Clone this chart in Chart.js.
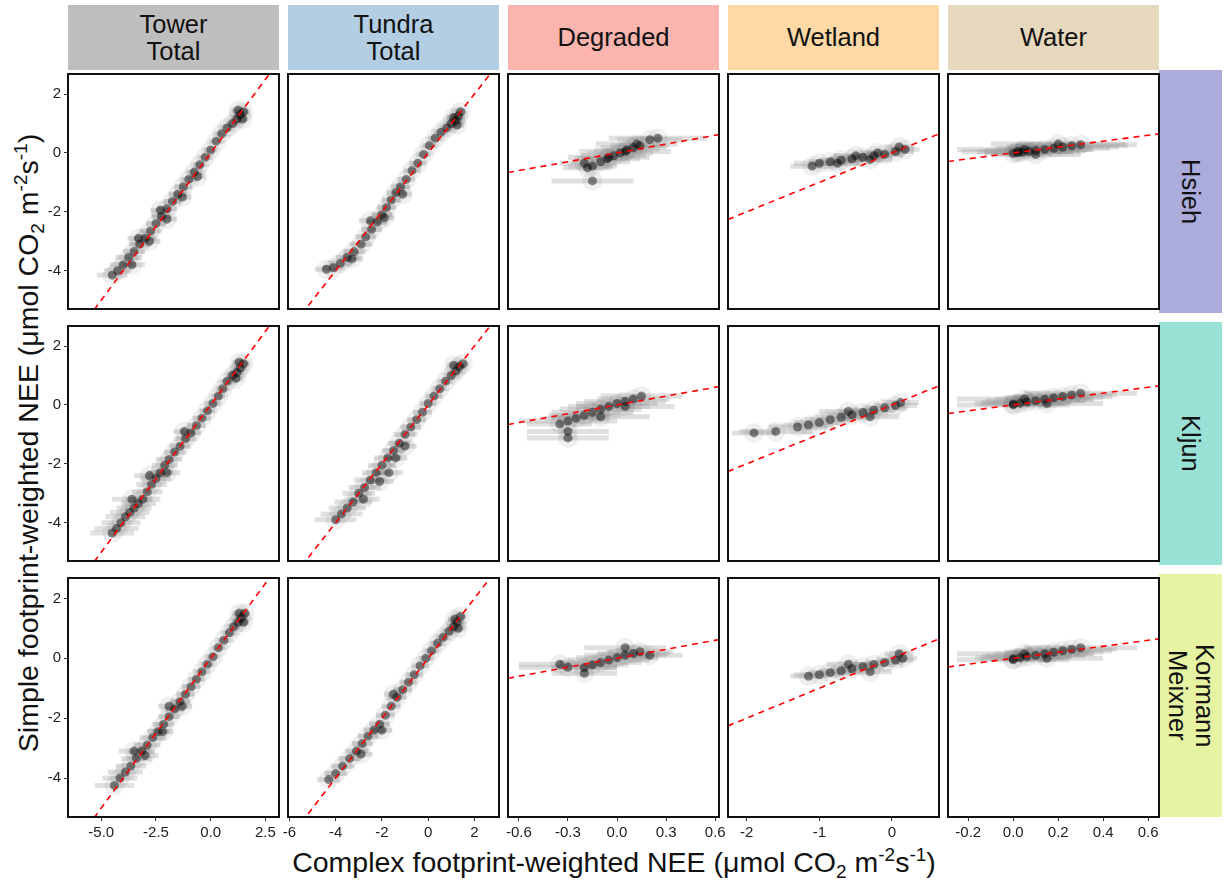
<!DOCTYPE html>
<html>
<head>
<meta charset="utf-8">
<script src="https://cdn.jsdelivr.net/npm/chart.js@4.4.1/dist/chart.umd.min.js"></script>
<style>
  body { margin: 0; background: #fff; font-family: "Liberation Sans", Arial, sans-serif; }
  #wrap { position: relative; width: 1225px; height: 882px; overflow: hidden; }
  .strip { position: absolute; display: flex; align-items: center; justify-content: center;
           text-align: center; font-size: 25.5px; line-height: 27px; color: #111; }
  .rstrip { writing-mode: vertical-rl; }
  canvas { position: absolute; }
  .title { position: absolute; font-size: 28.5px; color: #111; white-space: nowrap; }
  sub, sup { font-size: 19px; line-height: 0; }
</style>
</head>
<body>
<div id="wrap"></div>
<script>
// facet labels
const colLabels = [["Tower", "Total"], ["Tundra", "Total"], ["Degraded"], ["Wetland"], ["Water"]];
const rowLabels = [["Hsieh"], ["Kljun"], ["Kormann", "Meixner"]];
const colColors = ["#BEBEBE", "#B3CDE3", "#FBB4AE", "#FED9A6", "#E5D8BD"];
const rowColors = ["#ACACDC", "#99E1D5", "#E6F3A2"];

// axes (x free per column, y shared)
const xMin = [-6.52, -6.06, -0.666, -2.258, -0.29];
const xMax = [3.12, 3.06, 0.623, 0.648, 0.648];
const yMin = -5.3, yMax = 2.68;
const xTicks = [[-5, -2.5, 0, 2.5], [-6, -4, -2, 0, 2], [-0.6, -0.3, 0, 0.3, 0.6], [-2, -1, 0], [-0.2, 0, 0.2, 0.4, 0.6]];
const xTickLabels = [["-5.0", "-2.5", "0.0", "2.5"], ["-6", "-4", "-2", "0", "2"], ["-0.6", "-0.3", "0.0", "0.3", "0.6"], ["-2", "-1", "0"], ["-0.2", "0.0", "0.2", "0.4", "0.6"]];
const yTicks = [-4, -2, 0, 2];
const yTickLabels = ["-4", "-2", "0", "2"];

// [complex NEE, simple NEE, horizontal error]
const hsiehTower = [[-4.5,-4.15,0.7],[-4.25,-4.0,0.6],[-4.0,-3.8,0.6],[-3.75,-3.55,0.6],[-3.5,-3.35,0.5],[-3.25,-3.1,0.5],[-3.0,-2.9,0.5],[-2.75,-2.65,0.5],[-2.5,-2.4,0.45],[-2.25,-2.15,0.45],[-2.0,-1.9,0.45],[-1.75,-1.65,0.4],[-1.5,-1.4,0.4],[-1.25,-1.15,0.4],[-1.0,-0.9,0.35],[-0.75,-0.65,0.35],[-0.5,-0.4,0.3],[-0.25,-0.15,0.3],[0.0,0.1,0.3],[0.25,0.4,0.3],[0.5,0.65,0.3],[0.75,0.85,0.3],[1.0,1.0,0.3],[1.2,1.15,0.3],[1.35,1.3,0.3],[1.5,1.4,0.3],[1.25,1.45,0.3],[1.45,1.15,0.25],[-3.6,-3.8,0.6],[-2.8,-3.0,0.5],[-2.0,-2.25,0.45],[-1.3,-1.5,0.4],[-0.6,-0.8,0.35],[-3.3,-2.9,0.5],[-2.3,-1.95,0.45]];
const hsiehTundra = [[-4.4,-3.95,0.5],[-4.1,-3.9,0.5],[-3.8,-3.75,0.5],[-3.5,-3.55,0.5],[-3.2,-3.35,0.5],[-2.9,-3.1,0.5],[-2.7,-2.85,0.45],[-2.45,-2.6,0.45],[-2.2,-2.35,0.45],[-2.0,-2.1,0.45],[-1.8,-1.85,0.4],[-1.6,-1.6,0.4],[-1.4,-1.35,0.4],[-1.2,-1.15,0.4],[-0.95,-0.9,0.35],[-0.7,-0.6,0.35],[-0.45,-0.35,0.35],[-0.2,-0.05,0.3],[0.05,0.25,0.3],[0.3,0.5,0.3],[0.55,0.7,0.3],[0.8,0.85,0.3],[1.0,1.0,0.3],[1.2,1.1,0.3],[1.3,1.25,0.3],[1.1,1.2,0.3],[1.4,1.4,0.25],[1.25,0.95,0.3],[-2.5,-2.3,0.5],[-1.9,-2.2,0.45],[-3.3,-3.6,0.5],[-1.1,-1.4,0.4]];
const hsiehDegraded = [[-0.15,-0.45,0.15],[-0.1,-0.3,0.18],[-0.06,-0.2,0.2],[-0.02,-0.1,0.2],[0.02,0.0,0.2],[0.06,0.1,0.2],[0.1,0.18,0.2],[0.14,0.25,0.18],[-0.05,-0.15,0.25],[0.05,0.05,0.28],[0.12,0.3,0.25],[0.2,0.45,0.2],[-0.18,-0.5,0.15],[-0.15,-0.95,0.25],[0.25,0.5,0.3],[-0.2,-0.35,0.15]];
const hsiehWetland = [[-1.0,-0.35,0.35],[-0.85,-0.3,0.3],[-0.7,-0.25,0.3],[-0.55,-0.2,0.3],[-0.4,-0.15,0.3],[-0.25,-0.1,0.25],[-0.1,-0.05,0.25],[0.05,0.05,0.25],[0.18,0.12,0.2],[-0.75,-0.35,0.3],[-0.5,-0.1,0.3],[-0.2,0.0,0.25],[-0.3,-0.22,0.3],[0.1,0.2,0.2],[-1.1,-0.45,0.3]];
const hsiehWater = [[0.0,-0.02,0.1],[0.02,0.0,0.15],[0.04,0.03,0.2],[0.07,0.06,0.2],[0.1,0.08,0.22],[0.14,0.12,0.22],[0.18,0.16,0.25],[0.22,0.2,0.25],[0.26,0.24,0.25],[0.3,0.28,0.25],[0.05,0.12,0.3],[0.1,-0.05,0.2],[0.2,0.3,0.3],[0.02,0.05,0.25]];

const kljunTower = [[-4.5,-4.35,1.0],[-4.3,-4.2,1.0],[-4.1,-4.0,0.9],[-3.9,-3.8,0.9],[-3.7,-3.65,0.9],[-3.5,-3.5,0.8],[-3.3,-3.35,0.8],[-3.1,-3.2,0.8],[-2.9,-2.95,0.7],[-2.7,-2.7,0.7],[-2.5,-2.5,0.7],[-2.3,-2.3,0.6],[-2.1,-2.05,0.6],[-1.9,-1.85,0.6],[-1.65,-1.6,0.5],[-1.4,-1.4,0.5],[-1.15,-1.15,0.5],[-0.9,-0.95,0.45],[-0.65,-0.7,0.4],[-0.4,-0.45,0.4],[-0.15,-0.2,0.35],[0.1,0.05,0.35],[0.35,0.3,0.3],[0.55,0.55,0.3],[0.75,0.8,0.3],[1.0,1.0,0.3],[1.2,1.1,0.3],[1.35,1.25,0.3],[1.5,1.4,0.3],[1.3,1.45,0.3],[1.15,0.9,0.3],[-3.6,-3.2,0.9],[-2.8,-2.4,0.7],[-2.0,-2.3,0.6],[-1.2,-0.9,0.5]];
const kljunTundra = [[-4.0,-3.9,0.9],[-3.75,-3.7,0.9],[-3.5,-3.5,0.8],[-3.25,-3.3,0.8],[-3.0,-3.0,0.7],[-2.75,-2.8,0.7],[-2.5,-2.55,0.7],[-2.25,-2.3,0.6],[-2.0,-2.05,0.6],[-1.75,-1.8,0.6],[-1.5,-1.55,0.5],[-1.25,-1.3,0.5],[-1.0,-1.0,0.5],[-0.75,-0.75,0.45],[-0.5,-0.5,0.4],[-0.25,-0.25,0.4],[0.0,0.05,0.35],[0.25,0.3,0.35],[0.5,0.55,0.3],[0.75,0.8,0.3],[1.0,1.0,0.3],[1.2,1.15,0.3],[1.35,1.3,0.3],[1.1,1.35,0.3],[1.5,1.4,0.25],[-2.1,-2.6,0.6],[-1.7,-2.3,0.6],[-1.4,-1.8,0.5],[-2.8,-3.2,0.7],[-1.0,-1.4,0.5]];
const kljunDegraded = [[-0.25,-0.45,0.2],[-0.2,-0.35,0.22],[-0.15,-0.25,0.25],[-0.1,-0.15,0.25],[-0.05,-0.05,0.25],[0.0,0.05,0.25],[0.05,0.12,0.25],[0.1,0.2,0.22],[-0.3,-0.55,0.3],[-0.35,-0.65,0.2],[-0.3,-0.9,0.25],[-0.3,-1.12,0.25],[0.15,0.3,0.25],[-0.1,-0.4,0.3],[0.05,-0.05,0.3]];
const kljunWetland = [[-1.6,-0.9,0.5],[-1.3,-0.75,0.4],[-1.15,-0.68,0.35],[-1.0,-0.6,0.35],[-0.85,-0.5,0.35],[-0.7,-0.42,0.35],[-0.55,-0.34,0.35],[-0.4,-0.26,0.35],[-0.25,-0.18,0.3],[-0.1,-0.1,0.3],[0.05,-0.02,0.3],[0.12,0.08,0.25],[-0.6,-0.22,0.4],[-0.3,-0.4,0.4],[-1.9,-0.95,0.3]];
const kljunWater = [[0.0,0.03,0.15],[0.03,0.06,0.2],[0.06,0.1,0.2],[0.1,0.14,0.22],[0.14,0.19,0.22],[0.18,0.24,0.22],[0.22,0.29,0.22],[0.26,0.34,0.2],[0.0,0.0,0.25],[0.05,0.2,0.3],[0.15,0.05,0.25],[0.3,0.4,0.25]];

const kormannTower = [[-4.4,-4.25,0.9],[-4.15,-4.0,0.8],[-3.9,-3.8,0.8],[-3.65,-3.6,0.7],[-3.4,-3.35,0.7],[-3.15,-3.1,0.6],[-2.9,-2.9,0.6],[-2.65,-2.65,0.6],[-2.4,-2.45,0.5],[-2.15,-2.2,0.5],[-1.9,-1.95,0.5],[-1.65,-1.7,0.45],[-1.4,-1.45,0.45],[-1.15,-1.2,0.4],[-0.9,-0.95,0.4],[-0.65,-0.7,0.35],[-0.4,-0.45,0.35],[-0.15,-0.2,0.3],[0.1,0.05,0.3],[0.35,0.35,0.3],[0.6,0.6,0.3],[0.85,0.85,0.3],[1.05,1.05,0.3],[1.25,1.2,0.3],[1.4,1.35,0.3],[1.55,1.5,0.25],[1.3,1.5,0.3],[1.5,1.2,0.25],[-3.0,-3.25,0.6],[-2.2,-2.45,0.5],[-1.3,-1.6,0.45],[-3.5,-3.1,0.7],[-1.9,-1.6,0.5]];
const kormannTundra = [[-4.3,-4.05,0.5],[-4.0,-3.85,0.5],[-3.7,-3.6,0.5],[-3.4,-3.35,0.5],[-3.1,-3.1,0.5],[-2.85,-2.85,0.45],[-2.6,-2.6,0.45],[-2.35,-2.4,0.45],[-2.1,-2.2,0.45],[-1.85,-1.9,0.4],[-1.6,-1.6,0.4],[-1.35,-1.3,0.4],[-1.1,-1.05,0.4],[-0.85,-0.8,0.35],[-0.6,-0.55,0.35],[-0.35,-0.25,0.35],[-0.1,0.0,0.3],[0.15,0.25,0.3],[0.4,0.5,0.3],[0.65,0.7,0.3],[0.9,0.9,0.3],[1.1,1.05,0.3],[1.25,1.2,0.3],[1.4,1.4,0.25],[1.15,1.3,0.3],[1.3,1.0,0.3],[-2.0,-2.4,0.45],[-2.9,-3.2,0.5],[-1.5,-1.2,0.4]];
const kormannDegraded = [[-0.2,-0.32,0.2],[-0.15,-0.22,0.22],[-0.1,-0.14,0.25],[-0.05,-0.06,0.25],[0.0,0.02,0.25],[0.05,0.1,0.25],[0.1,0.16,0.22],[0.14,0.22,0.2],[-0.3,-0.3,0.3],[-0.2,-0.5,0.2],[0.05,0.35,0.25],[0.2,0.1,0.2],[-0.35,-0.2,0.25]];
const kormannWetland = [[-1.0,-0.55,0.35],[-0.85,-0.48,0.3],[-0.7,-0.42,0.3],[-0.55,-0.35,0.3],[-0.4,-0.28,0.3],[-0.25,-0.21,0.3],[-0.1,-0.14,0.25],[0.05,-0.06,0.25],[0.15,0.0,0.2],[-0.6,-0.2,0.3],[-0.3,-0.45,0.3],[0.1,0.15,0.2],[-1.15,-0.6,0.25]];
const kormannWater = [[0.0,-0.02,0.15],[0.03,0.02,0.2],[0.06,0.06,0.2],[0.1,0.1,0.22],[0.14,0.15,0.22],[0.18,0.2,0.22],[0.22,0.25,0.22],[0.26,0.3,0.2],[0.0,-0.05,0.25],[0.05,0.15,0.3],[0.15,0.0,0.25],[0.3,0.35,0.25]];

const panels = [
  [hsiehTower, hsiehTundra, hsiehDegraded, hsiehWetland, hsiehWater],
  [kljunTower, kljunTundra, kljunDegraded, kljunWetland, kljunWater],
  [kormannTower, kormannTundra, kormannDegraded, kormannWetland, kormannWater]
];

// layout in page pixels
const colLeft = [68, 288, 508, 728, 948];
const rowTop = [70, 322, 574];
const panelW = 211, panelH = 243;
const padX = 10, padY = 6, yAxisW = 40, xAxisH = 30;
const font = { family: '"Liberation Sans", Arial, sans-serif', size: 15 };

const wrap = document.getElementById("wrap");

function addDiv(cls, html, left, top, w, h, bg) {
  const d = document.createElement("div");
  d.className = cls;
  d.innerHTML = html;
  Object.assign(d.style, { left: left + "px", top: top + "px", width: w + "px", height: h + "px", background: bg || "transparent" });
  wrap.appendChild(d);
  return d;
}

colLabels.forEach((l, c) => addDiv("strip", l.join("<br>"), colLeft[c], 5, panelW, 65, colColors[c]));
rowLabels.forEach((l, r) => addDiv("strip rstrip", l.join("<br>"), 1159, rowTop[r], 63, panelH, rowColors[r]));

const yt = addDiv("title", "Simple footprint-weighted NEE (&mu;mol CO<sub>2</sub> m<sup>-2</sup>s<sup>-1</sup>)", 28, 443, 0, 0);
yt.style.width = "auto"; yt.style.height = "auto";
yt.style.transform = "translate(-50%,-50%) rotate(-90deg)";
const xt = addDiv("title", "Complex footprint-weighted NEE (&mu;mol CO<sub>2</sub> m<sup>-2</sup>s<sup>-1</sup>)", 614, 862, 0, 0);
xt.style.width = "auto"; xt.style.height = "auto";
xt.style.transform = "translate(-50%,-50%)";

// horizontal error bars under the points
const errorBars = {
  id: "errorBars",
  beforeDatasetsDraw(chart) {
    const { ctx, chartArea: a, scales: { x, y } } = chart;
    ctx.save();
    ctx.beginPath();
    ctx.rect(a.left, a.top, a.right - a.left, a.bottom - a.top);
    ctx.clip();
    ctx.strokeStyle = "rgba(160,160,160,0.32)";
    ctx.lineWidth = 5;
    chart.data.datasets[0].data.forEach(p => {
      const py = y.getPixelForValue(p.y);
      ctx.beginPath();
      ctx.moveTo(x.getPixelForValue(p.x - p.e), py);
      ctx.lineTo(x.getPixelForValue(p.x + p.e), py);
      ctx.stroke();
    });
    ctx.restore();
  }
};

const frame = {
  id: "frame",
  afterDraw(chart) {
    const { ctx, chartArea: a } = chart;
    ctx.save();
    ctx.strokeStyle = "#111";
    ctx.lineWidth = 2;
    ctx.strokeRect(a.left, a.top, a.right - a.left, a.bottom - a.top);
    ctx.restore();
  }
};

for (let r = 0; r < 3; r++) {
  for (let c = 0; c < 5; c++) {
    const showY = c === 0, showX = r === 2;
    const cv = document.createElement("canvas");
    const left = colLeft[c] - padX - (showY ? yAxisW : 0);
    const top = rowTop[r] - padY;
    const w = panelW + 2 * padX + (showY ? yAxisW : 0);
    const h = panelH + 2 * padY + (showX ? xAxisH : 0);
    cv.width = w; cv.height = h;
    cv.style.left = left + "px"; cv.style.top = top + "px";
    wrap.appendChild(cv);

    const pts = panels[r][c].map(p => ({ x: p[0], y: p[1], e: p[2] }));
    new Chart(cv, {
      type: "scatter",
      data: {
        datasets: [
          {
            data: pts,
            backgroundColor: "rgba(0,0,0,0.06)",
            borderWidth: 0,
            pointRadius: 10,
            order: 3
          },
          {
            data: pts,
            backgroundColor: "rgba(0,0,0,0.45)",
            borderWidth: 0,
            pointRadius: 4.5,
            order: 2
          },
          {
            type: "line",
            data: [{ x: xMin[c], y: xMin[c] }, { x: xMax[c], y: xMax[c] }],
            borderColor: "#FF0000",
            borderWidth: 1.6,
            borderDash: [6, 5],
            pointRadius: 0,
            showLine: true,
            fill: false,
            order: 1
          }
        ]
      },
      options: {
        responsive: false,
        animation: false,
        events: [],
        layout: { padding: { left: padX, right: padX, top: padY, bottom: padY } },
        plugins: { legend: { display: false }, tooltip: { enabled: false } },
        scales: {
          x: {
            type: "linear",
            min: xMin[c], max: xMax[c],
            display: showX,
            border: { display: false },
            grid: { display: true, drawOnChartArea: false, drawTicks: true, tickLength: 4, color: "#333" },
            afterBuildTicks: s => { s.ticks = xTicks[c].map(v => ({ value: v })); },
            afterFit: s => { s.height = showX ? xAxisH : 0; s.paddingLeft = 0; s.paddingRight = 0; },
            ticks: { callback: (v, i) => xTickLabels[c][i], font: font, color: "#222", padding: 3, maxRotation: 0, autoSkip: false }
          },
          y: {
            type: "linear",
            min: yMin, max: yMax,
            display: showY,
            border: { display: false },
            grid: { display: true, drawOnChartArea: false, drawTicks: true, tickLength: 4, color: "#333" },
            afterBuildTicks: s => { s.ticks = yTicks.map(v => ({ value: v })); },
            afterFit: s => { s.width = showY ? yAxisW : 0; s.paddingTop = 0; s.paddingBottom = 0; },
            ticks: { callback: (v, i) => yTickLabels[i], font: font, color: "#222", padding: 3, autoSkip: false }
          }
        }
      },
      plugins: [errorBars, frame]
    });
  }
}
</script>
</body>
</html>
